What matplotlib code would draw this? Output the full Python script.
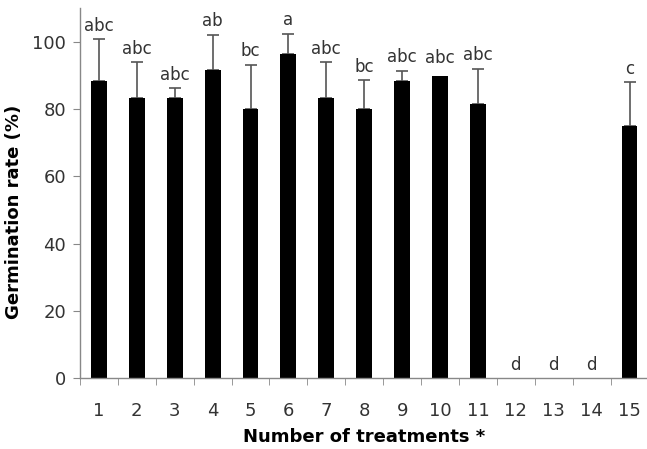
import matplotlib
matplotlib.use("Agg")
import matplotlib.pyplot as plt
import numpy as np

treatments = [str(i) for i in range(1, 16)]
germination = [88.4, 83.2, 83.2, 91.5, 80.1, 96.3, 83.2, 80.1, 88.2, 89.9, 81.4, 0, 0, 0, 75.0]
errors = [12.5, 10.8, 3.1, 10.6, 13.1, 6.1, 10.8, 8.4, 3.2, 0, 10.6, 0, 0, 0, 13.1]
letters = ["abc", "abc", "abc", "ab", "bc", "a", "abc", "bc", "abc", "abc", "abc", "d", "d", "d", "c"]

plt.rcParams['font.family'] = ['DejaVu Sans']
fig = plt.figure(figsize=(6.47, 4.49), dpi=100)
ax = fig.add_axes([0.1236, 0.158, 0.8787, 0.824])

x = np.arange(1, len(treatments) + 1)
gray = "#555555"
ax.bar(x, germination, width=0.42, color="black", zorder=2)
has_err = np.array(errors) > 0
ax.errorbar(x[has_err], np.array(germination)[has_err],
            yerr=[np.zeros(has_err.sum()), np.array(errors)[has_err]],
            fmt="none", ecolor=gray, elinewidth=1.2, capsize=4, capthick=1.2, zorder=1)

for xi, v, e, lab in zip(x, germination, errors, letters):
    off = 6 if (e == 0 and v > 0) else 3
    ax.annotate(lab, (xi, v + e), xytext=(0, off), textcoords="offset points",
                ha="center", va="bottom", fontsize=12, color="#333333")

ax.set_xlim(0.5, 15.5)
ax.set_ylim(0, 110)
ax.set_yticks([0, 20, 40, 60, 80, 100])
ax.set_xticks(x)
ax.set_xticklabels(treatments)
ax.set_xticks(np.arange(0.5, 15.6, 1), minor=True)
ax.tick_params(axis="x", which="major", length=0, labelsize=13, labelcolor="#333333", pad=17)
ax.tick_params(axis="x", which="minor", length=5, color="#888888", direction="out")
ax.tick_params(axis="y", length=5, color="#888888", labelsize=13, labelcolor="#333333", pad=5)

for s in ["top", "right"]:
    ax.spines[s].set_visible(False)
for s in ["left", "bottom"]:
    ax.spines[s].set_color("#888888")
    ax.spines[s].set_linewidth(1.0)

ax.set_xlabel("Number of treatments *", fontsize=13, fontweight="bold", labelpad=6)
ax.set_ylabel("Germination rate (%)", fontsize=13, fontweight="bold")
ax.yaxis.set_label_coords(-0.1, 0.45)

fig.savefig("out.png", dpi=100)
